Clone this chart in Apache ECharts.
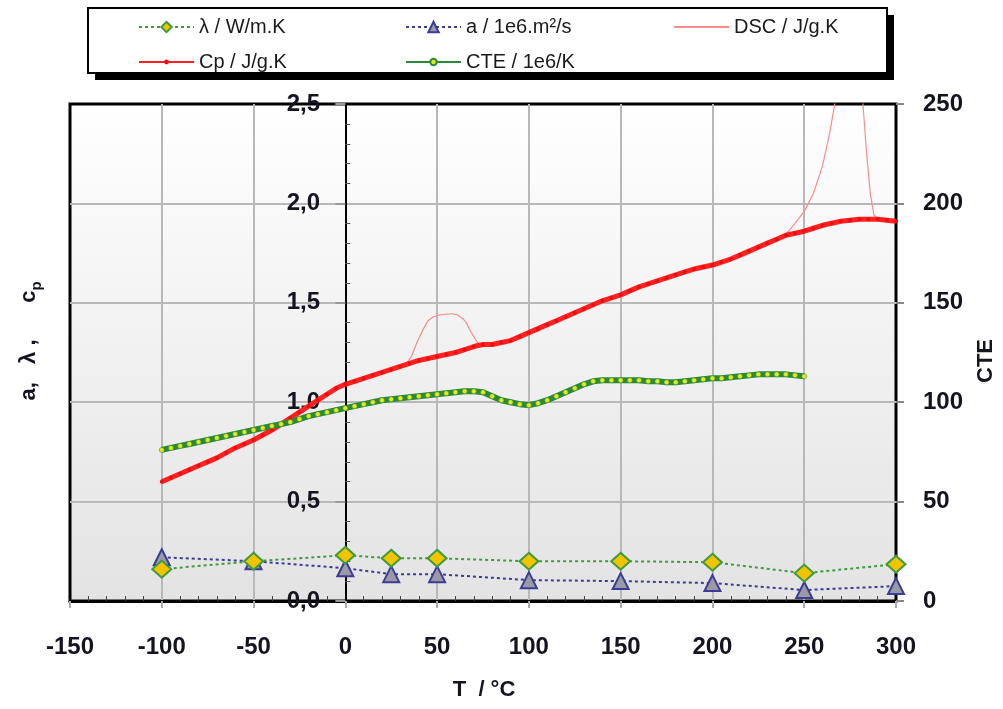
<!DOCTYPE html>
<html><head><meta charset="utf-8">
<script src="https://cdn.jsdelivr.net/npm/echarts@6/dist/echarts.min.js"></script>
<style>html,body{margin:0;padding:0;background:#fff}#c{width:1003px;height:709px}</style>
</head><body><div id="c"></div>
<script>
// ---- data ----
const pointTemps = [-100, -50, 0, 25, 50, 100, 150, 200, 250, 300];
const lambdaValues = [0.16, 0.20, 0.23, 0.215, 0.215, 0.20, 0.20, 0.195, 0.14, 0.185];
const diffusivityValues = [0.22, 0.20, 0.165, 0.135, 0.135, 0.105, 0.10, 0.09, 0.055, 0.075];

const cpTemps = [-100,-95,-90,-85,-80,-75,-70,-65,-60,-55,-50,-45,-40,-35,-30,-25,-20,-15,-10,-5,
  0,5,10,15,20,25,30,35,40,45,50,55,60,65,70,75,80,85,90,95,100,105,110,115,120,125,130,135,140,145,
  150,155,160,165,170,175,180,185,190,195,200,205,210,215,220,225,230,235,240,245,250,255,260,265,270,275,280,285,290,295,300];
const cpValues = [0.60,0.62,0.64,0.66,0.68,0.70,0.72,0.745,0.77,0.79,0.81,0.835,0.86,0.89,0.92,0.95,0.98,1.01,1.04,1.07,
  1.09,1.105,1.12,1.135,1.15,1.165,1.18,1.195,1.21,1.22,1.23,1.24,1.25,1.265,1.28,1.29,1.29,1.30,1.31,1.33,1.35,1.37,1.39,1.41,1.43,1.45,1.47,1.49,1.51,1.525,
  1.54,1.56,1.58,1.595,1.61,1.625,1.64,1.655,1.67,1.68,1.69,1.705,1.72,1.74,1.76,1.78,1.80,1.82,1.84,1.85,1.86,1.875,1.89,1.90,1.91,1.915,1.92,1.92,1.92,1.915,1.91];

const dscTemps = [-100,-80,-60,-40,-20,0,10,20,30,33,36,39,42,45,48,52,58,61,64,66,68,70,72,75,80,90,100,120,140,160,180,200,220,235,240,245,250,255,260,264,267,270,275,280,282,284,286,288,290,300];
const dscValues = [0.60,0.68,0.77,0.86,0.98,1.09,1.12,1.15,1.18,1.19,1.23,1.30,1.36,1.41,1.43,1.44,1.445,1.44,1.42,1.40,1.36,1.33,1.30,1.29,1.29,1.31,1.35,1.43,1.51,1.58,1.64,1.69,1.76,1.82,1.845,1.90,1.96,2.05,2.19,2.36,2.52,2.75,3.10,2.80,2.50,2.25,2.05,1.94,1.925,1.91];

const cteTemps = [-100,-95,-90,-85,-80,-75,-70,-65,-60,-55,-50,-45,-40,-35,-30,-25,-20,-15,-10,-5,
  0,5,10,15,20,25,30,35,40,45,50,55,60,65,70,75,80,85,90,95,100,105,110,115,120,125,130,135,140,145,
  150,155,160,165,170,175,180,185,190,195,200,205,210,215,220,225,230,235,240,245,250];
const cteValues = [76,77,78,79,80,81,82,83,84,85,86,87,88,89,90,91.5,93,94,95,96,
  97,98,99,100,101,101.5,102,102.5,103,103.5,104,104.5,105,105.5,105.5,105,103,101,100,99,98.5,99.5,101,103,105,107,109,110.5,111,111,
  111,111,111,110.5,110.5,110,110,110.5,111,111.5,112,112,112.5,113,113.5,114,114,114,114,113.5,113];

const seriesNames = ['λ / W/m.K', 'a / 1e6.m²/s', 'DSC / J/g.K', 'Cp / J/g.K', 'CTE / 1e6/K'];

// ---- chart ----
const zip = (xs, ys) => xs.map((x, i) => [x, ys[i]]);
const FONT = 'Liberation Sans';
const labelStyle = { fontFamily: FONT, fontSize: 24, fontWeight: 'bold', color: '#141420' };

const chart = echarts.init(document.getElementById('c'), null, { renderer: 'canvas' });

const legendCommon = {
  orient: 'horizontal', padding: 0, itemWidth: 55, itemGap: 0,
  selectedMode: false,
  textStyle: { fontFamily: FONT, fontSize: 20, color: '#1a1a1a' }
};

chart.setOption({
  animation: false,
  textStyle: { fontFamily: FONT },
  graphic: [
    { type: 'rect', z: 0, shape: { x: 95, y: 15, width: 799, height: 65 }, style: { fill: '#000' } },
    { type: 'rect', z: 1, shape: { x: 88, y: 8, width: 799, height: 65 }, style: { fill: '#fff', stroke: '#000', lineWidth: 2 } },
    { type: 'text', x: 29, y: 341, rotation: Math.PI / 2,
      style: { text: '{n|a,   λ ,      c}{s|p}', align: 'center', verticalAlign: 'middle',
        rich: { n: { fontFamily: FONT, fontSize: 22, fontWeight: 'bold', fill: '#141420', lineHeight: 30, verticalAlign: 'middle' },
                s: { fontFamily: FONT, fontSize: 15, fontWeight: 'bold', fill: '#141420', lineHeight: 30, verticalAlign: 'bottom' } } } },
    { type: 'text', x: 986, y: 361, rotation: Math.PI / 2,
      style: { text: 'CTE', align: 'center', verticalAlign: 'middle', font: 'bold 22px "Liberation Sans"', fill: '#141420' } },
    { type: 'text', x: 484, y: 690,
      style: { text: 'T  / °C', align: 'center', verticalAlign: 'middle', font: 'bold 22px "Liberation Sans"', fill: '#141420' } }
  ],
  legend: [
    Object.assign({ data: [seriesNames[0]], left: 138, top: 17, itemHeight: 13 }, legendCommon),
    Object.assign({ data: [seriesNames[1]], left: 405, top: 17, itemHeight: 13 }, legendCommon),
    Object.assign({ data: [seriesNames[2]], left: 673, top: 17, itemHeight: 10,
      itemStyle: { color: 'rgba(0,0,0,0)', borderColor: 'rgba(0,0,0,0)', borderWidth: 0, opacity: 0 } }, legendCommon),
    Object.assign({ data: [seriesNames[3]], left: 138, top: 52, itemHeight: 6 }, legendCommon),
    Object.assign({ data: [seriesNames[4]], left: 405, top: 52, itemHeight: 8 }, legendCommon)
  ],
  grid: {
    left: 70, right: 107, top: 104, bottom: 108, show: true,
    outerBoundsMode: 'none', containLabel: false,
    borderColor: '#000', borderWidth: 3,
    backgroundColor: new echarts.graphic.LinearGradient(0, 0, 0, 1, [
      { offset: 0, color: '#ffffff' }, { offset: 1, color: '#e3e3e3' }
    ])
  },
  xAxis: [
    {
      type: 'value', min: -150, max: 300, interval: 50, position: 'bottom',
      axisLine: { show: true, onZero: true, lineStyle: { color: '#000', width: 3 } },
      axisTick: { show: true, length: 7, lineStyle: { color: '#aaa', width: 2 } },
      axisLabel: Object.assign({ margin: 34 }, labelStyle),
      splitLine: { show: true, showMinLine: false, showMaxLine: false, lineStyle: { color: '#b8b8b8', width: 2 } }
    },
    {
      type: 'value', min: -150, max: 300, interval: 50, position: 'bottom',
      axisLine: { show: false, onZero: false },
      axisTick: { show: false, inside: true },
      axisLabel: { show: false },
      splitLine: { show: false },
      minorTick: { show: true, splitNumber: 5, length: 5, lineStyle: { color: '#444', width: 1 } }
    }
  ],
  yAxis: [
    {
      type: 'value', min: 0, max: 2.5, interval: 0.5, position: 'left',
      axisLine: { show: true, onZero: true, onZeroAxisIndex: 0, lineStyle: { color: '#000', width: 2 } },
      axisTick: { show: false },
      axisLabel: Object.assign({ margin: -250, formatter: v => v.toFixed(1).replace('.', ',') }, labelStyle),
      splitLine: { show: true, showMinLine: false, showMaxLine: false, lineStyle: { color: '#b8b8b8', width: 2 } }
    },
    {
      type: 'value', min: 0, max: 250, interval: 50, position: 'right',
      axisLine: { show: false, onZero: false },
      axisTick: { show: true, length: 8, lineStyle: { color: '#888', width: 2 } },
      axisLabel: Object.assign({ margin: 27 }, labelStyle),
      splitLine: { show: false }
    },
    {
      type: 'value', min: 0, max: 2.5, interval: 0.5, position: 'left',
      axisLine: { show: false, onZero: true, onZeroAxisIndex: 0 },
      axisTick: { show: false, inside: true },
      axisLabel: { show: false },
      splitLine: { show: false },
      minorTick: { show: true, splitNumber: 5, length: 5, lineStyle: { color: '#555', width: 1 } }
    },
    {
      type: 'value', min: 0, max: 2.5, interval: 0.5, position: 'left',
      axisLine: { show: false, onZero: true, onZeroAxisIndex: 0 },
      axisTick: { show: true, length: 10, lineStyle: { color: '#999', width: 2 } },
      axisLabel: { show: false },
      splitLine: { show: false }
    }
  ],
  series: [
    {
      name: seriesNames[0], type: 'line', xAxisIndex: 0, yAxisIndex: 0,
      data: zip(pointTemps, lambdaValues),
      symbol: 'diamond', symbolSize: [19, 17], showAllSymbol: true, z: 5,
      lineStyle: { color: '#3f9b3f', width: 2, type: [3, 3] },
      itemStyle: { color: '#f2c400', borderColor: '#3f9b3f', borderWidth: 2 }
    },
    {
      name: seriesNames[1], type: 'line', xAxisIndex: 0, yAxisIndex: 0,
      data: zip(pointTemps, diffusivityValues),
      symbol: 'triangle', symbolSize: 16, showAllSymbol: true, z: 4,
      lineStyle: { color: '#3c3c96', width: 2, type: [3, 3] },
      itemStyle: { color: '#9a9aa6', borderColor: '#3c3c96', borderWidth: 2 }
    },
    {
      name: seriesNames[2], type: 'line', xAxisIndex: 0, yAxisIndex: 0,
      data: zip(dscTemps, dscValues), clip: true,
      symbol: 'none', z: 2,
      lineStyle: { color: '#ff8a8a', width: 1.2 },
      itemStyle: { color: '#ff8a8a' }
    },
    {
      name: seriesNames[3], type: 'line', xAxisIndex: 0, yAxisIndex: 0,
      data: zip(cpTemps, cpValues),
      symbol: 'circle', symbolSize: 4, showAllSymbol: true, z: 3,
      lineStyle: { color: '#ff2020', width: 5 },
      itemStyle: { color: '#e81010' }
    },
    {
      name: seriesNames[4], type: 'line', xAxisIndex: 0, yAxisIndex: 1,
      data: zip(cteTemps, cteValues),
      symbol: 'circle', symbolSize: 5, showAllSymbol: true, z: 3,
      lineStyle: { color: '#2a8a3a', width: 6 },
      itemStyle: { color: '#e4e81c', borderColor: '#2a8a3a', borderWidth: 0.5 }
    }
  ]
});
</script>
</body></html>
